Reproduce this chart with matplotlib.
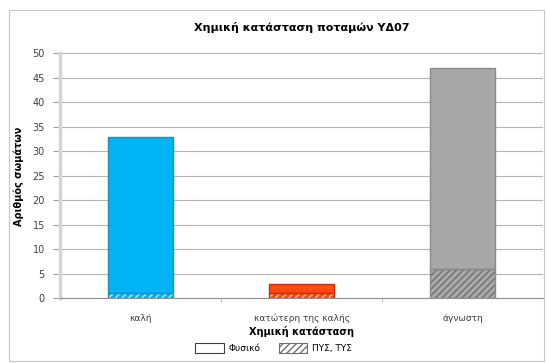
import matplotlib
matplotlib.use("Agg")
import matplotlib.pyplot as plt
from matplotlib.patches import Rectangle, Patch
import numpy as np

categories = ["καλή", "κατώτερη της καλής", "άγνωστη"]
natural = [32, 2, 41]        # Φυσικό
modified = [1, 1, 6]         # ΠΥΣ, ΤΥΣ
colors = ["#00B4F5", "#FF4A12", "#A8A8A8"]
edge_colors = ["#1F8FBF", "#C8300A", "#8A8A8A"]
hatch_colors = ["#BFEFFF", "#FFC9B5", "#707070"]
yticks = [0, 5, 10, 15, 20, 25, 30, 35, 40, 45, 50]

plt.rcParams["font.family"] = ["DejaVu Sans"]
plt.rcParams["hatch.linewidth"] = 1.0

fig = plt.figure(figsize=(5.47, 3.63), dpi=100)
fig.patches.append(Rectangle((0.017, 0.005), 0.978, 0.968, transform=fig.transFigure,
                             fill=False, edgecolor="#C8C8C8", linewidth=0.8))
ax = fig.add_axes([0.110, 0.178, 0.883, 0.675])

x = np.arange(len(categories))
w = 0.4
for i in range(len(categories)):
    ax.bar(x[i], modified[i], width=w, color=colors[i], edgecolor=hatch_colors[i],
           hatch="/////", linewidth=0, zorder=3)
    ax.bar(x[i], modified[i], width=w, fill=False, edgecolor=edge_colors[i],
           linewidth=1.0, zorder=4)
    ax.bar(x[i], natural[i], bottom=modified[i], width=w, color=colors[i],
           edgecolor=edge_colors[i], linewidth=1.0, zorder=3)

ax.set_xlim(-0.5, len(categories) - 0.5)
ax.set_ylim(0, 50)
ax.set_yticks(yticks)
ax.set_yticklabels([str(t) for t in yticks], fontsize=7, color="#404040")
ax.set_xticks(x)
ax.set_xticklabels(categories, fontsize=6.5, color="#404040")
ax.tick_params(axis="x", length=0, pad=11)
ax.tick_params(axis="y", length=5, color="#A0A0A0", pad=6)
ax.set_xticks([0.5, 1.5], minor=True)
ax.tick_params(axis="x", which="minor", length=3, color="#B0B0B0")
ax.yaxis.grid(True, color="#B4B4B4", linewidth=0.8, zorder=0)
ax.set_axisbelow(True)
for s in ["top", "right"]:
    ax.spines[s].set_visible(False)
ax.spines["left"].set_color("#D4D4D4")
ax.spines["left"].set_linewidth(2.5)
ax.spines["bottom"].set_color("#909090")
ax.spines["bottom"].set_linewidth(0.8)

ax.set_title("Χημική κατάσταση ποταμών ΥΔ07", fontsize=8, fontweight="bold", pad=16)
ax.set_ylabel("Αριθμός σωμάτων", fontsize=7, fontweight="bold", labelpad=6)
ax.set_xlabel("Χημική κατάσταση", fontsize=7, fontweight="bold", labelpad=2)

handles = [Patch(facecolor="white", edgecolor="#404040", linewidth=0.8),
           Patch(facecolor="white", edgecolor="#707070", hatch="/////", linewidth=0.8)]
fig.legend(handles, ["Φυσικό", "ΠΥΣ, ΤΥΣ"], loc="center", bbox_to_anchor=(0.5, 0.042),
           ncol=2, frameon=False, fontsize=6.5, handlelength=3.2, handleheight=1.4,
           columnspacing=2.0, handletextpad=0.5)

fig.savefig("out.png", dpi=100)
